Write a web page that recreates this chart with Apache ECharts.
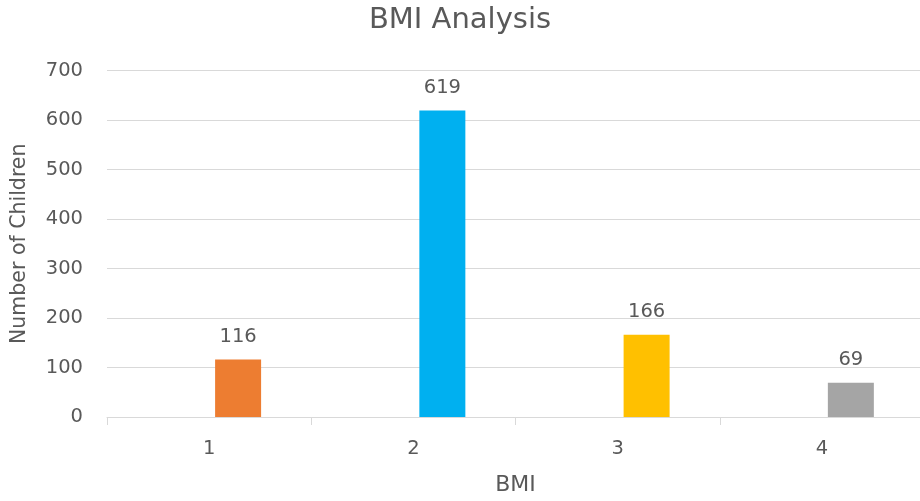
<!DOCTYPE html>
<html>
<head>
<meta charset="utf-8">
<script src="https://cdn.jsdelivr.net/npm/echarts@6/dist/echarts.min.js"></script>
<style>
  html, body { margin: 0; padding: 0; background: #ffffff; }
  #chart { width: 920px; height: 501px; }
</style>
</head>
<body>
<div id="chart"></div>
<script>
// BMI groups and the number of children in each
const categories = ['1', '2', '3', '4'];
const childCounts = [116, 619, 166, 69];
const barColors = ['#ED7D31', '#00B0F0', '#FFC000', '#A5A5A5'];
const yTicks = { min: 0, max: 700, step: 100 };

const textColor = '#595959';
const lineColor = '#d9d9d9';
const fontFamily = '"DejaVu Sans", "Open Sans", sans-serif';

const chart = echarts.init(document.getElementById('chart'), null, { renderer: 'canvas' });

chart.setOption({
  animation: false,
  backgroundColor: '#ffffff',
  textStyle: { fontFamily: fontFamily, color: textColor },
  title: {
    text: 'BMI Analysis',
    left: 'center',
    top: 1,
    textStyle: { fontFamily: fontFamily, fontSize: 29, fontWeight: 'normal', color: textColor }
  },
  grid: { left: 107, right: -4, top: 70.5, bottom: 84, containLabel: false, outerBoundsMode: 'none' },
  xAxis: {
    type: 'category',
    data: categories,
    name: 'BMI',
    nameLocation: 'middle',
    nameGap: 57,
    nameTextStyle: { fontFamily: fontFamily, fontSize: 22, color: textColor },
    axisLine: { lineStyle: { color: lineColor, width: 1 } },
    axisTick: { show: true, length: 8, lineStyle: { color: lineColor } },
    axisLabel: { fontFamily: fontFamily, fontSize: 19.5, color: textColor, margin: 22 }
  },
  yAxis: {
    type: 'value',
    min: yTicks.min,
    max: yTicks.max,
    interval: yTicks.step,
    name: 'Number of Children',
    nameLocation: 'middle',
    nameGap: 77,
    nameTextStyle: { fontFamily: fontFamily, fontSize: 20.5, color: textColor },
    axisLine: { show: false },
    axisTick: { show: false },
    axisLabel: { fontFamily: fontFamily, fontSize: 19.5, color: textColor, margin: 24 },
    splitLine: { lineStyle: { color: lineColor, width: 1 } }
  },
  series: [
    {
      // empty companion series: keeps the bars in the right-hand slot of each group
      type: 'bar',
      data: categories.map(() => '-'),
      barWidth: 46,
      barGap: '26%',
      silent: true
    },
    {
      type: 'bar',
      data: childCounts.map((v, i) => ({ value: v, itemStyle: { color: barColors[i] } })),
      barWidth: 46,
      barGap: '26%',
      label: {
        show: true,
        position: 'top',
        distance: 13,
        fontFamily: fontFamily,
        fontSize: 19.5,
        color: textColor
      }
    }
  ]
});
</script>
</body>
</html>
